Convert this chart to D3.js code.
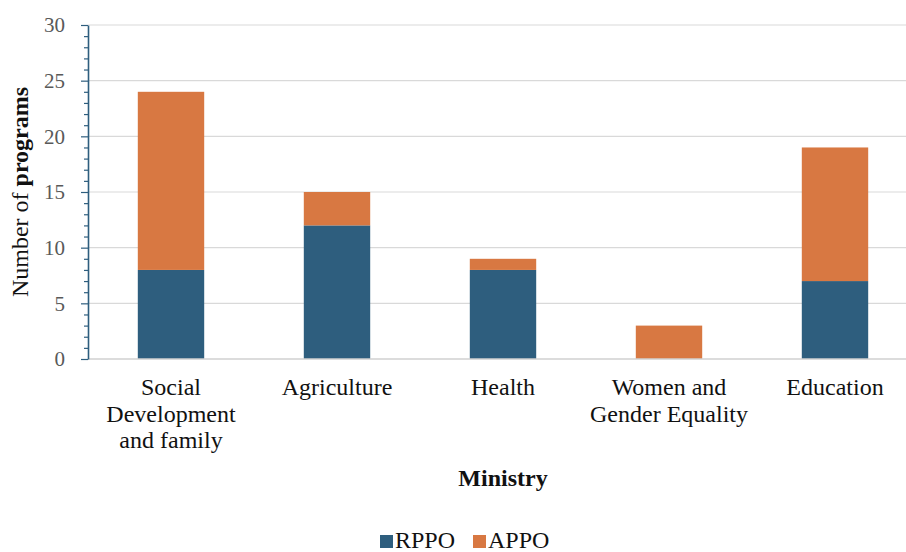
<!DOCTYPE html>
<html>
<head>
<meta charset="utf-8">
<script src="https://cdn.jsdelivr.net/npm/d3@7"></script>
<style>
  html, body { margin: 0; padding: 0; background: #fff; }
  svg { display: block; }
</style>
</head>
<body>
<svg id="chart" width="906" height="552"></svg>
<script>
// Programs per ministry, split by organisation type
const ministries = [
  ["Social", "Development", "and family"],
  ["Agriculture"],
  ["Health"],
  ["Women and", "Gender Equality"],
  ["Education"]
];
const rppo = [8, 12, 8, 0, 7];
const appo = [16, 3, 1, 3, 12];
const seriesNames = ["RPPO", "APPO"];
const seriesColors = ["#2E5E7E", "#D87842"];
const yTicks = [0, 5, 10, 15, 20, 25, 30];

(function draw() {
  const FONT = '"Liberation Serif", "Times New Roman", serif';
  const svg = d3.select("#chart");
  const plotLeft = 88, plotRight = 918, plotTop = 25, plotBottom = 359;

  const keys = ministries.map(m => m.join(" "));
  const rows = keys.map((k, i) => ({ key: k, RPPO: rppo[i], APPO: appo[i] }));

  const x = d3.scaleBand().domain(keys).range([plotLeft, plotRight])
    .paddingInner(0.6).paddingOuter(0.3);
  const y = d3.scaleLinear().domain([0, 30]).range([plotBottom, plotTop]);

  // horizontal gridlines
  svg.append("g").selectAll("line").data(yTicks.filter(t => t > 0)).join("line")
    .attr("x1", plotLeft).attr("x2", plotRight)
    .attr("y1", d => y(d)).attr("y2", d => y(d))
    .attr("stroke", "#D9D9D9").attr("stroke-width", 1.2);

  // stacked bars
  const stack = d3.stack().keys(seriesNames)(rows);
  svg.append("g").selectAll("g").data(stack).join("g")
    .attr("fill", (d, i) => seriesColors[i])
    .selectAll("rect").data(d => d.filter(s => s[1] - s[0] > 0)).join("rect")
    .attr("x", d => x(d.data.key))
    .attr("width", x.bandwidth())
    .attr("y", d => y(d[1]))
    .attr("height", d => y(d[0]) - y(d[1]));

  // baseline
  svg.append("line")
    .attr("x1", plotLeft).attr("x2", plotRight)
    .attr("y1", plotBottom).attr("y2", plotBottom)
    .attr("stroke", "#D0D0D0").attr("stroke-width", 1.5);

  // y axis with minor ticks
  const axisColor = "#2E5E7E";
  const minor = d3.range(0, 31, 1).filter(v => v % 5 !== 0);
  const yAxis = svg.append("g").attr("transform", `translate(${plotLeft},0)`);
  yAxis.append("g").call(d3.axisLeft(y).tickValues(minor).tickSize(4).tickFormat(""))
    .call(g => g.select(".domain").remove())
    .selectAll("line").attr("stroke", axisColor).attr("stroke-width", 1.2);
  yAxis.append("g").call(d3.axisLeft(y).tickValues(yTicks).tickSize(7).tickPadding(16).tickSizeOuter(0))
    .call(g => g.select(".domain").attr("stroke", axisColor).attr("stroke-width", 1.6))
    .call(g => g.selectAll("line").attr("stroke", axisColor).attr("stroke-width", 1.2))
    .call(g => g.selectAll("text")
      .attr("fill", "#595959")
      .style("font-family", FONT)
      .style("font-size", "21px"));

  // category labels
  const catLabels = svg.append("g");
  ministries.forEach((lines, i) => {
    const cx = x(keys[i]) + x.bandwidth() / 2;
    const t = catLabels.append("text")
      .attr("x", cx).attr("y", 395)
      .attr("text-anchor", "middle")
      .attr("fill", "#111")
      .style("font-family", FONT)
      .style("font-size", "24px");
    lines.forEach((ln, j) => {
      t.append("tspan").attr("x", cx).attr("dy", j === 0 ? 0 : 26.6).text(ln);
    });
  });

  // axis titles
  svg.append("text")
    .attr("x", (plotLeft + plotRight) / 2).attr("y", 486)
    .attr("text-anchor", "middle").attr("font-weight", "bold")
    .attr("fill", "#111")
    .style("font-family", FONT).style("font-size", "24px")
    .text("Ministry");

  const yTitle = svg.append("text")
    .attr("transform", `translate(28,${(plotTop + plotBottom) / 2}) rotate(-90)`)
    .attr("text-anchor", "middle").attr("fill", "#111")
    .style("font-family", FONT).style("font-size", "24px");
  yTitle.append("tspan").text("Number of ");
  yTitle.append("tspan").attr("font-weight", "bold").text("programs");

  // legend
  const legendX = [380, 473];
  const legend = svg.append("g");
  seriesNames.forEach((name, i) => {
    const lx = legendX[i];
    legend.append("rect").attr("x", lx).attr("y", 535).attr("width", 13).attr("height", 13)
      .attr("fill", seriesColors[i]);
    legend.append("text").attr("x", lx + 15).attr("y", 548)
      .attr("fill", "#111")
      .style("font-family", FONT).style("font-size", "24px").text(name);
  });
})();
</script>
</body>
</html>
